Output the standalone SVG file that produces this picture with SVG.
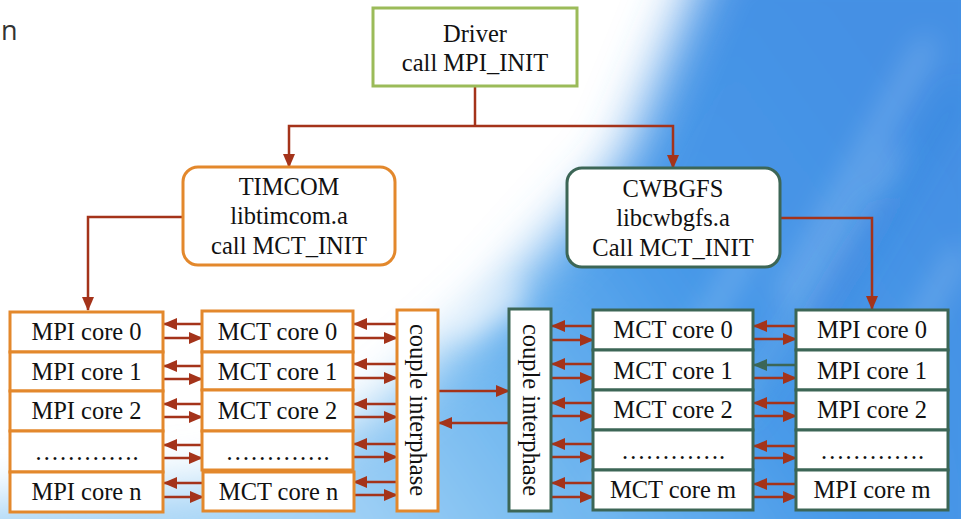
<svg xmlns="http://www.w3.org/2000/svg" width="961" height="519" viewBox="0 0 961 519">
<defs>
<style>
text{font-family:"Liberation Serif","Times New Roman",serif;font-size:24.5px;fill:#111;text-anchor:middle}
.o{fill:#fff;stroke:#E3882C;stroke-width:3}
.g{fill:#fff;stroke:#3C6656;stroke-width:3}
.c{stroke:#A4331A;stroke-width:2.5;fill:none}
.r{stroke:#A4331A;stroke-width:2.5;fill:none;marker-end:url(#ah)}
.dg{stroke:#3C6656;stroke-width:2.5;fill:none;marker-end:url(#ahg)}
</style>
<marker id="ah" markerUnits="userSpaceOnUse" markerWidth="14" markerHeight="12" refX="13" refY="6" orient="auto"><path d="M0,0 L14,6 L0,12 Z" fill="#A4331A"/></marker>
<marker id="ahg" markerUnits="userSpaceOnUse" markerWidth="14" markerHeight="12" refX="13" refY="6" orient="auto"><path d="M0,0 L14,6 L0,12 Z" fill="#3C6656"/></marker>
<linearGradient id="sky" gradientUnits="userSpaceOnUse" x1="300" y1="500" x2="900" y2="80">
<stop offset="0" stop-color="#a6d4f6"/>
<stop offset="0.3" stop-color="#72b8f0"/>
<stop offset="0.6" stop-color="#4698e8"/>
<stop offset="1" stop-color="#4590e4"/>
</linearGradient>
<filter id="soft" x="-20%" y="-20%" width="140%" height="140%"><feGaussianBlur stdDeviation="26"/></filter>
<filter id="soft2" x="-30%" y="-30%" width="160%" height="160%"><feGaussianBlur stdDeviation="14"/></filter>
</defs>
<g id="background">
<rect x="0" y="0" width="961" height="519" fill="#fff"/>
<path d="M715,-60 L1020,-60 L1020,580 L-60,580 L-60,505 L220,484 L385,405 L495,305 L625,160 Z" fill="url(#sky)" filter="url(#soft)"/>
<g stroke="#ffffff" stroke-opacity="0.22" stroke-width="16" filter="url(#soft2)">
<path d="M780,300 L930,40"/>
<path d="M700,470 L900,150"/>
<path d="M860,420 L961,250"/>
<path d="M600,500 L760,230"/>
<path d="M450,330 L520,290" stroke-width="30" stroke-opacity="0.5"/>
</g>
<g stroke="#2a6fd0" stroke-opacity="0.2" stroke-width="16" filter="url(#soft2)">
<path d="M820,330 L961,90"/>
<path d="M740,420 L880,200"/>
</g>
</g>
<text x="1" y="40" style="font-family:'Open Sans','Noto Sans',sans-serif;font-size:27px;fill:#333;text-anchor:start">n</text>
<g id="connectors">
<path class="c" d="M475,86 V126"/>
<path class="r" d="M475,126 H289 V167"/>
<path class="r" d="M475,126 H673 V168"/>
<path class="r" d="M183,217 H88 V310"/>
<path class="r" d="M780,218 H872 V309"/>
<path class="r" d="M202,324 H164"/><path class="r" d="M163,338 H202"/>
<path class="r" d="M202,366 H164"/><path class="r" d="M163,379 H202"/>
<path class="r" d="M202,404 H164"/><path class="r" d="M163,417 H202"/>
<path class="r" d="M202,445 H164"/><path class="r" d="M163,458 H202"/>
<path class="r" d="M203,483 H164"/><path class="r" d="M163,497 H203"/>
<path class="r" d="M397,324 H354"/><path class="r" d="M353,338 H397"/>
<path class="r" d="M397,364 H354"/><path class="r" d="M353,378 H397"/>
<path class="r" d="M397,404 H354"/><path class="r" d="M353,417 H397"/>
<path class="r" d="M397,444 H354"/><path class="r" d="M353,457 H397"/>
<path class="r" d="M397,482 H354"/><path class="r" d="M353,495 H397"/>
<path class="r" d="M438,391 H509"/><path class="r" d="M509,423 H439"/>
<path class="r" d="M593,326 H552"/><path class="r" d="M551,340 H593"/>
<path class="r" d="M593,364 H552"/><path class="r" d="M551,378 H593"/>
<path class="r" d="M593,403 H552"/><path class="r" d="M551,416 H593"/>
<path class="r" d="M593,444 H552"/><path class="r" d="M551,457 H593"/>
<path class="r" d="M593,483 H552"/><path class="r" d="M551,497 H593"/>
<path class="r" d="M796,326 H754"/><path class="r" d="M753,339 H796"/>
<path class="dg" d="M796,365 H754"/><path class="r" d="M753,378 H796"/>
<path class="r" d="M796,403 H754"/><path class="r" d="M753,416 H796"/>
<path class="r" d="M796,446 H754"/><path class="r" d="M753,458 H796"/>
<path class="r" d="M796,484 H754"/><path class="r" d="M753,497 H796"/>
</g>
<g id="driver">
<rect x="373" y="8" width="204" height="78" fill="#fff" stroke="#9BBB59" stroke-width="3"/>
<text x="475" y="42">Driver</text>
<text x="475" y="71">call MPI_INIT</text>
</g>
<g id="timcom">
<rect class="o" x="183" y="167" width="212" height="98" rx="15"/>
<text x="289" y="195">TIMCOM</text>
<text x="289" y="224">libtimcom.a</text>
<text x="289" y="254">call MCT_INIT</text>
</g>
<g id="cwbgfs">
<rect class="g" x="567" y="168" width="213" height="99" rx="15"/>
<text x="673" y="197">CWBGFS</text>
<text x="673" y="226">libcwbgfs.a</text>
<text x="673" y="256">Call MCT_INIT</text>
</g>
<g id="left-mpi">
<rect class="o" x="10" y="312" width="153" height="40"/><text x="86.5" y="340">MPI core 0</text>
<rect class="o" x="10" y="352" width="153" height="39"/><text x="86.5" y="380">MPI core 1</text>
<rect class="o" x="10" y="391" width="153" height="40"/><text x="86.5" y="419">MPI core 2</text>
<rect class="o" x="10" y="431" width="153" height="41"/><text x="86.5" y="460">………….</text>
<rect class="o" x="10" y="472" width="153" height="40"/><text x="86.5" y="500">MPI core n</text>
</g>
<g id="left-mct">
<rect class="o" x="202" y="311" width="151" height="41"/><text x="277.5" y="340">MCT core 0</text>
<rect class="o" x="202" y="352" width="151" height="38"/><text x="277.5" y="380">MCT core 1</text>
<rect class="o" x="202" y="390" width="151" height="41"/><text x="277.5" y="419">MCT core 2</text>
<rect class="o" x="202" y="431" width="151" height="39"/><text x="277.5" y="460">………….</text>
<rect class="o" x="203" y="472" width="151" height="39"/><text x="278.5" y="500">MCT core n</text>
</g>
<g id="left-couple">
<rect class="o" x="397" y="310" width="41" height="201"/>
<text transform="translate(417,410) rotate(90)" x="0" y="7">couple interphase</text>
</g>
<g id="right-couple">
<rect class="g" x="509" y="309" width="42" height="202"/>
<text transform="translate(530,410) rotate(90)" x="0" y="7">couple interphase</text>
</g>
<g id="right-mct">
<rect class="g" x="593" y="310" width="160" height="40"/><text x="673" y="338">MCT core 0</text>
<rect class="g" x="593" y="350" width="160" height="40"/><text x="673" y="379">MCT core 1</text>
<rect class="g" x="593" y="390" width="160" height="40"/><text x="673" y="418">MCT core 2</text>
<rect class="g" x="593" y="430" width="160" height="40"/><text x="673" y="459">………….</text>
<rect class="g" x="593" y="470" width="160" height="40"/><text x="673" y="498">MCT core m</text>
</g>
<g id="right-mpi">
<rect class="g" x="796" y="310" width="152" height="40"/><text x="872" y="338">MPI core 0</text>
<rect class="g" x="796" y="350" width="152" height="40"/><text x="872" y="379">MPI core 1</text>
<rect class="g" x="796" y="390" width="152" height="40"/><text x="872" y="418">MPI core 2</text>
<rect class="g" x="796" y="430" width="152" height="40"/><text x="872" y="459">………….</text>
<rect class="g" x="796" y="470" width="152" height="40"/><text x="872" y="498">MPI core m</text>
</g>
</svg>
